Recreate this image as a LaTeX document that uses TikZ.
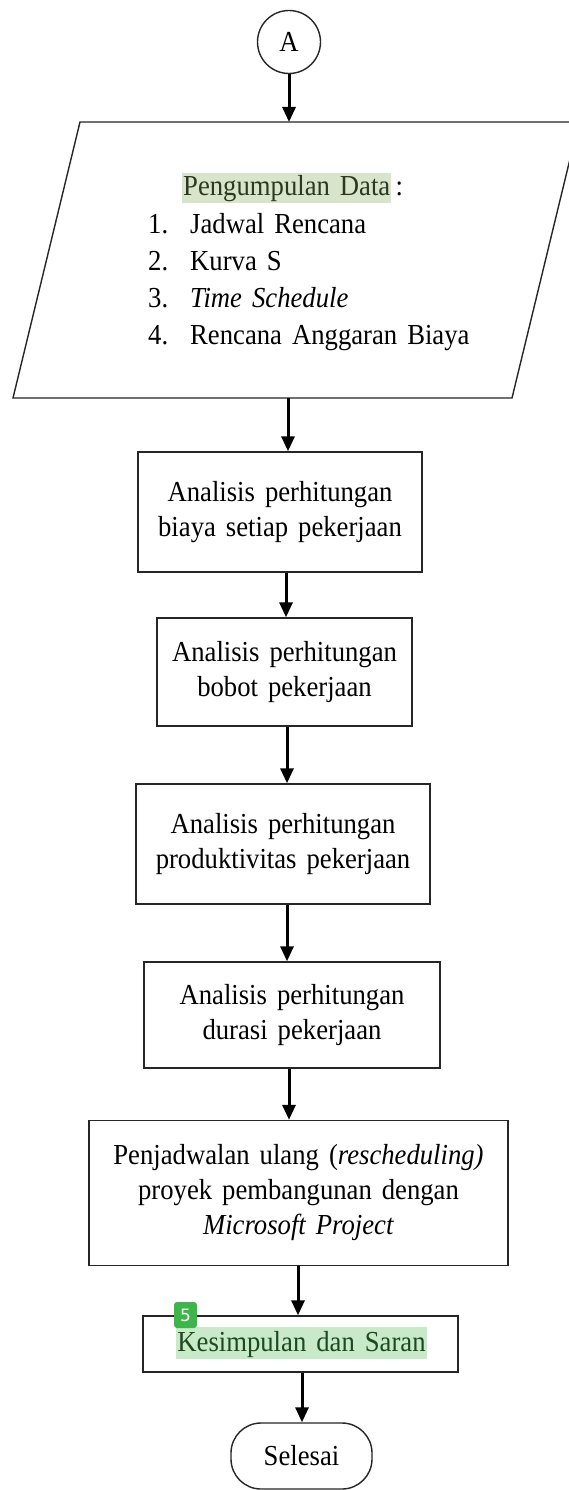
\documentclass[tikz,border=0pt]{standalone}
\usepackage{fontspec}
\setmainfont[FakeStretch=0.92,WordSpace=1.5]{Liberation Serif}
\newfontfamily\badgefont{DejaVu Sans}
\usetikzlibrary{arrows.meta}
\definecolor{hlA}{HTML}{D8E4CB}
\definecolor{hlB}{HTML}{C8EAC8}
\definecolor{txA}{HTML}{2B3A1E}
\definecolor{txB}{HTML}{1B4A1F}
\definecolor{badgegreen}{HTML}{3DB54A}
\definecolor{edge}{HTML}{262626}
\begin{document}
\begin{tikzpicture}[x=1bp,y=-1bp,
  every node/.style={font=\fontsize{29bp}{35bp}\selectfont, inner sep=0pt},
  box/.style={draw=edge, line width=1.4bp, align=center},
  arr/.style={line width=3bp, -{Triangle[length=15bp,width=13bp]}},
  listitem/.style={anchor=base west},
]
\useasboundingbox (0,0) rectangle (569,1490);
\fill[white] (0,0) rectangle (569,1490);

% connector A
\node[draw=edge, circle, line width=1.4bp, minimum size=63bp] (A) at (289,42) {A};

% data parallelogram
\coordinate (pTL) at (80,122);
\coordinate (pTR) at (579,122);
\coordinate (pBR) at (512,398);
\coordinate (pBL) at (13,398);
\draw[edge, line width=1.4bp] (pTL) -- (pTR) -- (pBR) -- (pBL) -- cycle;
\coordinate (pIn) at (289,122);
\coordinate (pOut) at (288,398);

\node[listitem, fill=hlA, text=txA, inner xsep=1bp, inner ysep=1bp, text height=22bp, text depth=6bp] (head) at (182,196) {Pengumpulan Data};
\node[listitem] (colon) at ([xshift=4bp]head.base east) {:};
\node[listitem] (n1) at (148,233) {1.};
\node[listitem] (t1) at (190,233) {Jadwal Rencana};
\node[listitem] (n2) at (148,270) {2.};
\node[listitem] (t2) at (190,270) {Kurva S};
\node[listitem] (n3) at (148,307) {3.};
\node[listitem] (t3) at (190,307) {\itshape Time Schedule};
\node[listitem] (n4) at (148,344) {4.};
\node[listitem] (t4) at (190,344) {Rencana Anggaran Biaya};

% process boxes
\node[box, minimum width=284bp, minimum height=120bp] (b1) at (280,512) {Analisis perhitungan\\biaya setiap pekerjaan};
\node[box, minimum width=255bp, minimum height=108bp] (b2) at (284.5,672) {Analisis perhitungan\\bobot pekerjaan};
\node[box, minimum width=294bp, minimum height=120bp] (b3) at (283,844) {Analisis perhitungan\\produktivitas pekerjaan};
\node[box, minimum width=296bp, minimum height=106bp] (b4) at (292,1015) {Analisis perhitungan\\durasi pekerjaan};
\node[box, minimum width=419bp, minimum height=145bp] (b5) at (298.5,1193) {Penjadwalan ulang (\textit{rescheduling)}\\proyek pembangunan dengan\\\textit{Microsoft Project}};
\node[box, minimum width=315bp, minimum height=56bp] (b6) at (300.5,1344) {};
\node[fill=hlB, text=txB, inner xsep=1bp, inner ysep=2bp, text height=22bp, text depth=6bp] (kt) at (301.5,1343) {Kesimpulan dan Saran};
\node[fill=badgegreen, rounded corners=3bp, minimum width=23bp, minimum height=26bp, text=white, font=\badgefont\fontsize{17bp}{20bp}\selectfont] (badge) at (185.5,1315) {5};

% terminator
\node[box, rounded corners=30bp, minimum width=141bp, minimum height=66bp] (end) at (301.5,1456) {Selesai};

% connectors
\draw[arr] (A.south) -- (pIn);
\draw[arr] (pOut) -- (b1.north -| pOut);
\draw[arr] (b1.south -| 286,0) -- (b2.north -| 286,0);
\draw[arr] (b2.south -| 287,0) -- (b3.north -| 287,0);
\draw[arr] (b3.south -| 287,0) -- (b4.north -| 287,0);
\draw[arr] (b4.south -| 289,0) -- (b5.north -| 289,0);
\draw[arr] (b5.south -| 298,0) -- (b6.north -| 298,0);
\draw[arr] (b6.south -| 302,0) -- (end.north -| 302,0);
\end{tikzpicture}
\end{document}
